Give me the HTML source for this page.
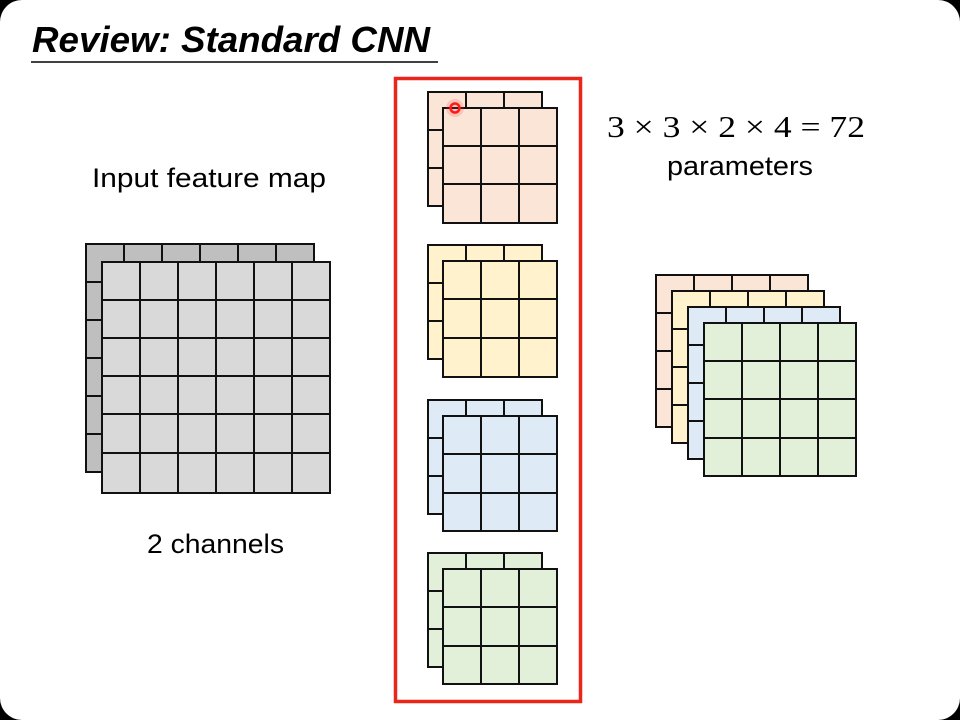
<!DOCTYPE html>
<html><head><meta charset="utf-8"><style>
html,body{margin:0;padding:0;background:#000;}
svg{display:block;}
text{font-family:"Liberation Sans",sans-serif;}
</style></head><body>
<svg width="960" height="720" viewBox="0 0 960 720" xmlns="http://www.w3.org/2000/svg">
<rect x="0" y="0" width="960" height="720" rx="22" fill="#fff"/>
<text x="32" y="52" font-size="36" font-weight="bold" font-style="italic" fill="#000" textLength="398" lengthAdjust="spacingAndGlyphs">Review: Standard CNN</text>
<line x1="31" y1="62" x2="438" y2="62" stroke="#000" stroke-width="1.5"/>

<g stroke="#111" stroke-width="2" fill="none">
<rect x="86" y="244" width="228" height="228" fill="#bfbfbf"/>
<path d="M124 244V472M162 244V472M200 244V472M238 244V472M276 244V472M86 282H314M86 320H314M86 358H314M86 396H314M86 434H314"/>
<rect x="102" y="262" width="228" height="231" fill="#d9d9d9"/>
<path d="M140 262V493M178 262V493M216 262V493M254 262V493M292 262V493M102 300H330M102 338H330M102 376H330M102 414H330M102 453H330"/>

<rect x="428" y="92" width="114" height="114" fill="#fbe5d6"/>
<path d="M466 92V206M504 92V206M428 130H542M428 168H542"/>
<rect x="443" y="108" width="114" height="115" fill="#fbe5d6"/>
<path d="M481 108V223M519 108V223M443 146H557M443 184H557"/>
<rect x="428" y="245" width="114" height="114" fill="#fff2cc"/>
<path d="M466 245V359M504 245V359M428 283H542M428 321H542"/>
<rect x="443" y="261" width="114" height="116" fill="#fff2cc"/>
<path d="M481 261V377M519 261V377M443 299H557M443 338H557"/>
<rect x="428" y="400" width="114" height="114" fill="#deebf7"/>
<path d="M466 400V514M504 400V514M428 438H542M428 476H542"/>
<rect x="443" y="416" width="114" height="115" fill="#deebf7"/>
<path d="M481 416V531M519 416V531M443 454H557M443 493H557"/>
<rect x="428" y="553" width="114" height="114" fill="#e2f0d9"/>
<path d="M466 553V667M504 553V667M428 591H542M428 629H542"/>
<rect x="443" y="569" width="114" height="115" fill="#e2f0d9"/>
<path d="M481 569V684M519 569V684M443 607H557M443 646H557"/>

<rect x="656" y="275" width="152" height="152" fill="#fbe5d6"/>
<path d="M694 275V427M732 275V427M770 275V427M656 313H808M656 351H808M656 389H808"/>
<rect x="672" y="291" width="152" height="152" fill="#fff2cc"/>
<path d="M710 291V443M748 291V443M786 291V443M672 329H824M672 367H824M672 405H824"/>
<rect x="688" y="307" width="152" height="152" fill="#deebf7"/>
<path d="M726 307V459M764 307V459M802 307V459M688 345H840M688 383H840M688 421H840"/>
<rect x="704" y="323" width="152" height="153" fill="#e2f0d9"/>
<path d="M742 323V476M780 323V476M818 323V476M704 361H856M704 399H856M704 438H856"/>
</g>

<rect x="395.5" y="78.5" width="185" height="623" fill="none" stroke="#e8261a" stroke-width="3.5"/>
<circle cx="455" cy="108" r="9" fill="#ff4040" opacity="0.2"/>
<circle cx="455" cy="108" r="4.5" fill="none" stroke="#ff1a1a" stroke-width="2.5"/>

<text x="92" y="187" font-size="27" textLength="234" lengthAdjust="spacingAndGlyphs">Input feature map</text>
<text x="147" y="553" font-size="27" textLength="137" lengthAdjust="spacingAndGlyphs">2 channels</text>
<text x="607" y="137" font-size="31" style="font-family:'Liberation Serif',serif" textLength="258" lengthAdjust="spacingAndGlyphs">3 × 3 × 2 × 4 = 72</text>
<text x="667" y="175" font-size="27" textLength="146" lengthAdjust="spacingAndGlyphs">parameters</text>
</svg>
</body></html>
